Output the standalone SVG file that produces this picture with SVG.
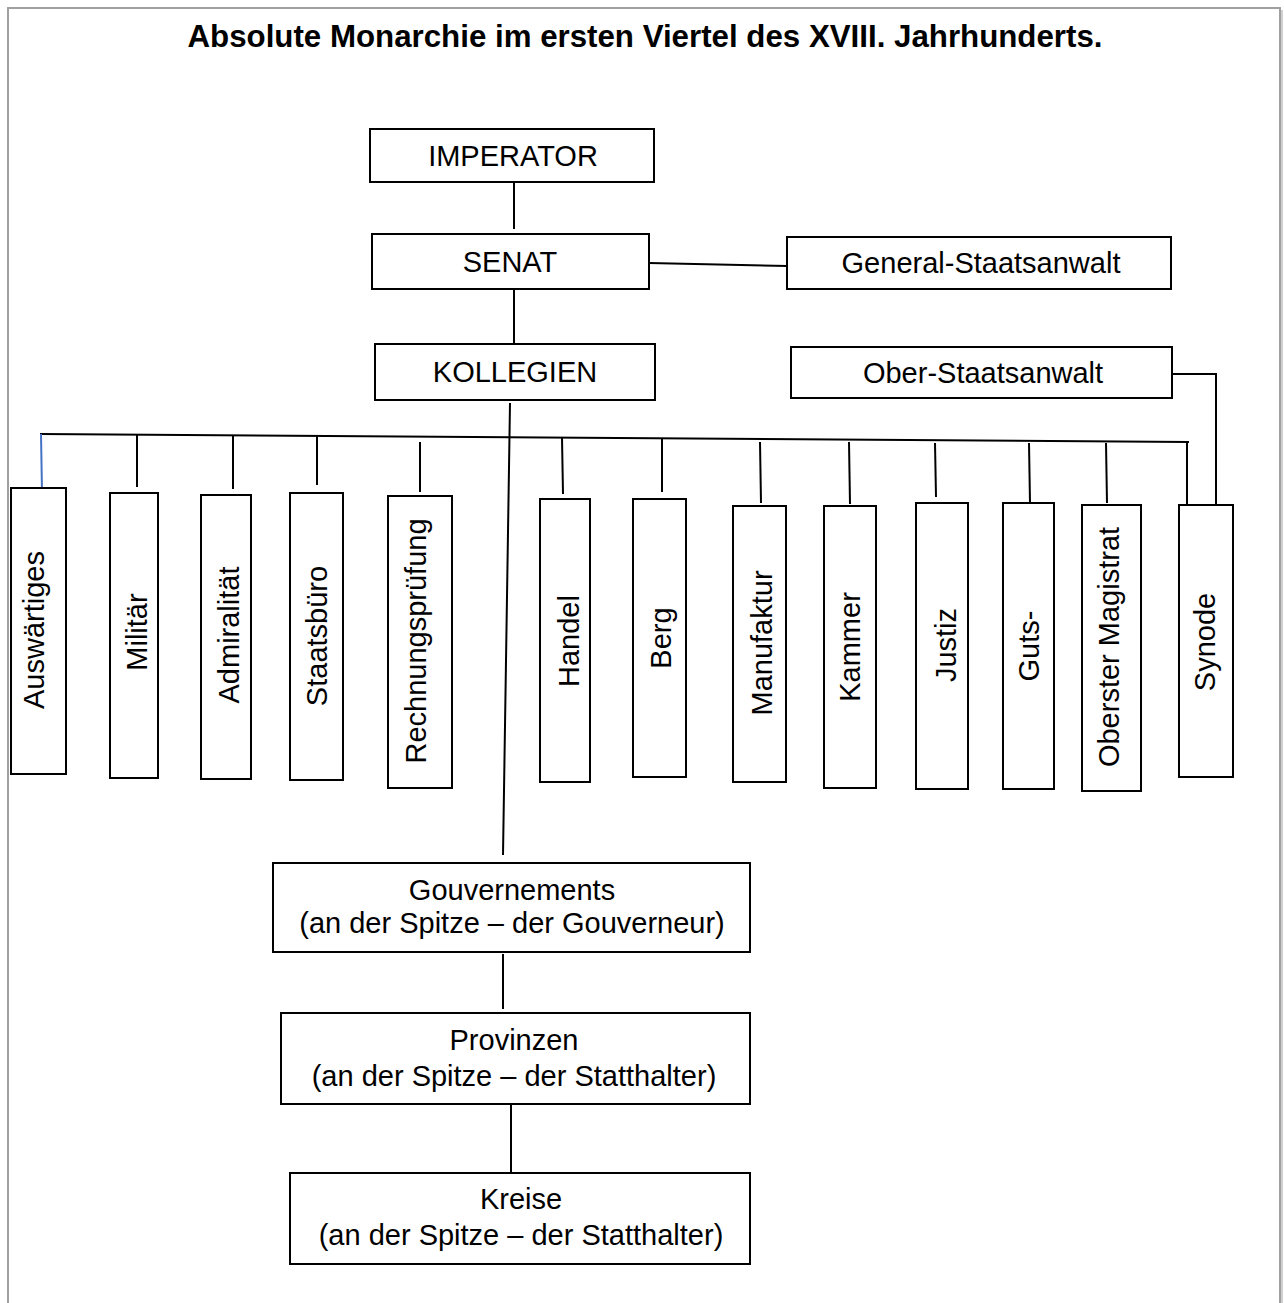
<svg xmlns="http://www.w3.org/2000/svg" width="1284" height="1303" viewBox="0 0 1284 1303">
<style>
.box{fill:#fff;stroke:#000;stroke-width:2}
.t{font-family:"Liberation Sans",Arial,sans-serif;font-size:29px;fill:#000;text-anchor:middle}
.title{font-family:"Liberation Sans",Arial,sans-serif;font-size:31px;font-weight:bold;fill:#000;text-anchor:middle}
.c{stroke:#000;stroke-width:2;fill:none}
</style>
<rect x="0" y="0" width="1284" height="1303" fill="#fff"/>
<g id="page-border">
<path d="M8,1303 V8 H1280 V1303" fill="none" stroke="#a0a0a0" stroke-width="2"/>
<line x1="1282" y1="10" x2="1282" y2="1303" stroke="#d0d0d0" stroke-width="2"/>
</g>
<text class="title" x="645" y="47" textLength="915" lengthAdjust="spacingAndGlyphs">Absolute Monarchie im ersten Viertel des XVIII. Jahrhunderts.</text>

<g id="connectors">
<line class="c" x1="514" y1="182" x2="514" y2="229"/>
<line class="c" x1="514" y1="289" x2="514" y2="343"/>
<line class="c" x1="649" y1="263" x2="787" y2="266"/>
<polyline class="c" points="1172,374 1216,374 1216,504"/>
<line class="c" x1="510" y1="403" x2="503" y2="855"/>
<line class="c" x1="40" y1="434" x2="1189" y2="442"/>
<line x1="41" y1="434" x2="42" y2="492" stroke="#4472c4" stroke-width="2"/>
<line class="c" x1="137" y1="435" x2="137" y2="487"/>
<line class="c" x1="233" y1="436" x2="233" y2="489"/>
<line class="c" x1="317" y1="437" x2="317" y2="485"/>
<line class="c" x1="420" y1="442" x2="420" y2="492"/>
<line class="c" x1="562" y1="438" x2="563" y2="494"/>
<line class="c" x1="662" y1="438" x2="662" y2="492"/>
<line class="c" x1="760" y1="442" x2="761" y2="503"/>
<line class="c" x1="849" y1="442" x2="850" y2="504"/>
<line class="c" x1="935" y1="443" x2="936" y2="497"/>
<line class="c" x1="1029" y1="443" x2="1030" y2="503"/>
<line class="c" x1="1106" y1="443" x2="1107" y2="503"/>
<line class="c" x1="1187" y1="442" x2="1187" y2="504"/>
<line class="c" x1="503" y1="954" x2="503" y2="1009"/>
<line class="c" x1="511" y1="1105" x2="511" y2="1173"/>
</g>

<g id="imperator"><rect class="box" x="370" y="129" width="284" height="53"/><text class="t" x="513" y="166">IMPERATOR</text></g>
<g id="senat"><rect class="box" x="372" y="234" width="277" height="55"/><text class="t" x="510" y="272">SENAT</text></g>
<g id="general-staatsanwalt"><rect class="box" x="787" y="237" width="384" height="52"/><text class="t" x="981" y="273">General-Staatsanwalt</text></g>
<g id="kollegien"><rect class="box" x="375" y="344" width="280" height="56"/><text class="t" x="515" y="382">KOLLEGIEN</text></g>
<g id="ober-staatsanwalt"><rect class="box" x="791" y="347" width="381" height="51"/><text class="t" x="983" y="383">Ober-Staatsanwalt</text></g>

<g id="auswaertiges"><rect class="box" x="11" y="488" width="55" height="286"/><text class="t" transform="translate(44,630) rotate(-90)">Auswärtiges</text></g>
<g id="militaer"><rect class="box" x="110" y="493" width="48" height="285"/><text class="t" transform="translate(147,632) rotate(-90)">Militär</text></g>
<g id="admiralitaet"><rect class="box" x="201" y="495" width="50" height="284"/><text class="t" transform="translate(239,635) rotate(-90)">Admiralität</text></g>
<g id="staatsbuero"><rect class="box" x="290" y="493" width="53" height="287"/><text class="t" transform="translate(327,636) rotate(-90)">Staatsbüro</text></g>
<g id="rechnungspruefung"><rect class="box" x="388" y="496" width="64" height="292"/><text class="t" transform="translate(426,641) rotate(-90)">Rechnungsprüfung</text></g>
<g id="handel"><rect class="box" x="540" y="499" width="50" height="283"/><text class="t" transform="translate(579,641) rotate(-90)">Handel</text></g>
<g id="berg"><rect class="box" x="633" y="499" width="53" height="278"/><text class="t" transform="translate(671,638) rotate(-90)">Berg</text></g>
<g id="manufaktur"><rect class="box" x="733" y="506" width="53" height="276"/><text class="t" transform="translate(772,643) rotate(-90)">Manufaktur</text></g>
<g id="kammer"><rect class="box" x="824" y="506" width="52" height="282"/><text class="t" transform="translate(860,647) rotate(-90)">Kammer</text></g>
<g id="justiz"><rect class="box" x="916" y="503" width="52" height="286"/><text class="t" transform="translate(956,645) rotate(-90)">Justiz</text></g>
<g id="guts"><rect class="box" x="1003" y="503" width="51" height="286"/><text class="t" transform="translate(1039,646) rotate(-90)">Guts-</text></g>
<g id="oberster-magistrat"><rect class="box" x="1082" y="505" width="59" height="286"/><text class="t" transform="translate(1119,647) rotate(-90)">Oberster Magistrat</text></g>
<g id="synode"><rect class="box" x="1179" y="505" width="54" height="272"/><text class="t" transform="translate(1215,642) rotate(-90)">Synode</text></g>

<g id="gouvernements"><rect class="box" x="273" y="863" width="477" height="89"/><text class="t" x="512" y="900">Gouvernements</text><text class="t" x="512" y="933">(an der Spitze – der Gouverneur)</text></g>
<g id="provinzen"><rect class="box" x="281" y="1013" width="469" height="91"/><text class="t" x="514" y="1050">Provinzen</text><text class="t" x="514" y="1086">(an der Spitze – der Statthalter)</text></g>
<g id="kreise"><rect class="box" x="290" y="1173" width="460" height="91"/><text class="t" x="521" y="1209">Kreise</text><text class="t" x="521" y="1245">(an der Spitze – der Statthalter)</text></g>
</svg>
